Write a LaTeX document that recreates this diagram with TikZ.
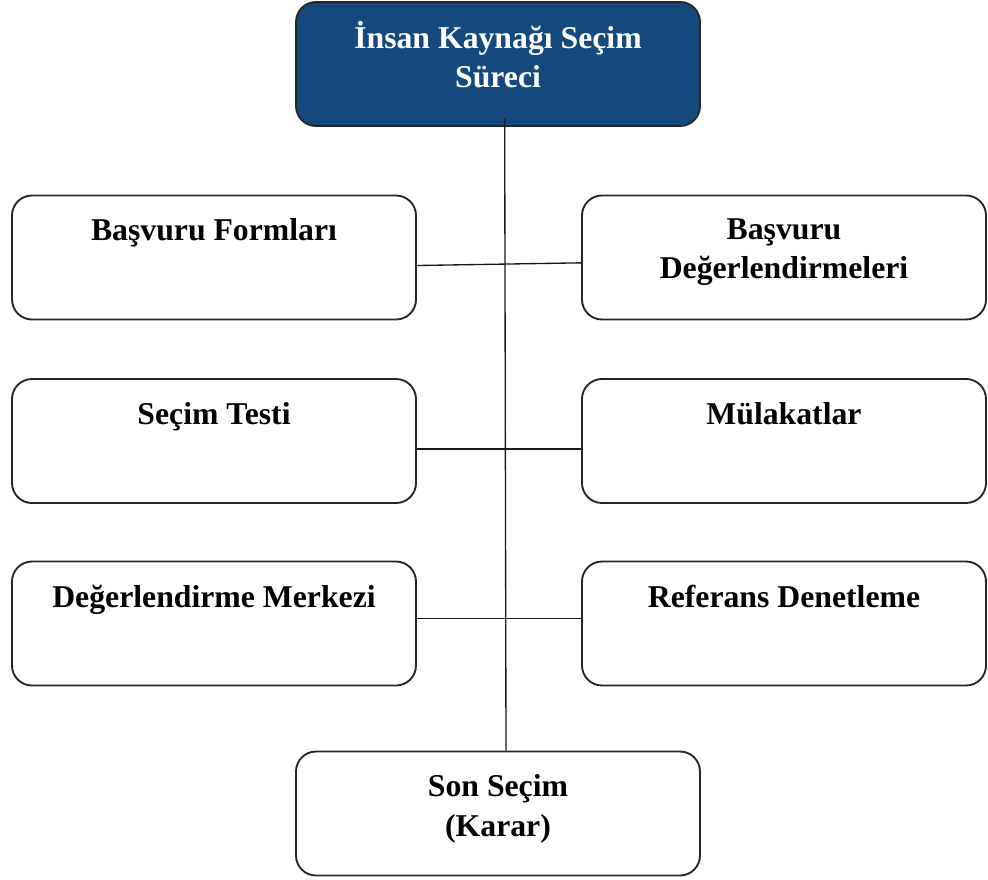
\documentclass[tikz,border=0pt]{standalone}
\usepackage{fontspec}
\setmainfont{Liberation Serif}
\usetikzlibrary{positioning}
\definecolor{headblue}{RGB}{21,73,125}
\tikzset{
  stage/.style={draw=black!85, line width=1.4pt, rounded corners=15pt, minimum width=303pt, minimum height=93pt},
  stagetext/.style={anchor=north, yshift=-18pt, inner sep=0pt, align=center, font=\fontsize{23.8}{29.5}\selectfont\bfseries},
  link/.style={draw=black!90, line width=1pt},
}

\begin{document}
\begin{tikzpicture}[x=0.75pt, y=-0.75pt]
    \useasboundingbox (0,0) rectangle (988,879);
    \node[stage, fill=headblue, label={[stagetext, text=white, yshift=3pt]north:İnsan Kaynağı Seçim\\Süreci}] (top) at (498,64) {};
    \foreach \name/\x/\y/\txt in {basvuru/214/257.5/Başvuru Formları, degerl/784/257.5/{Başvuru\\Değerlendirmeleri},
        test/214/441/Seçim Testi, mulakat/784/441/Mülakatlar,
        merkez/214/623.5/Değerlendirme Merkezi, referans/784/623.5/Referans Denetleme}
        \node[stage, label={[stagetext]north:\txt}] (\name) at (\x,\y) {};
    \node[stage, label={[stagetext]north:Son Seçim\\(Karar)}] (karar) at (498,813.5) {};
    % spine from the top box down to the decision
    \draw[link] ([xshift=5pt,yshift=6pt]top.south) -- ([xshift=6pt]karar.north);
    \draw[link] ([yshift=-6pt]basvuru.east) -- ([yshift=-4pt]degerl.west);
    \draw[link] ([yshift=-6pt]test.east) -- ([yshift=-6pt]mulakat.west);
    \draw[link] ([yshift=4pt]merkez.east) -- ([yshift=4pt]referans.west);
\end{tikzpicture}
\end{document}
